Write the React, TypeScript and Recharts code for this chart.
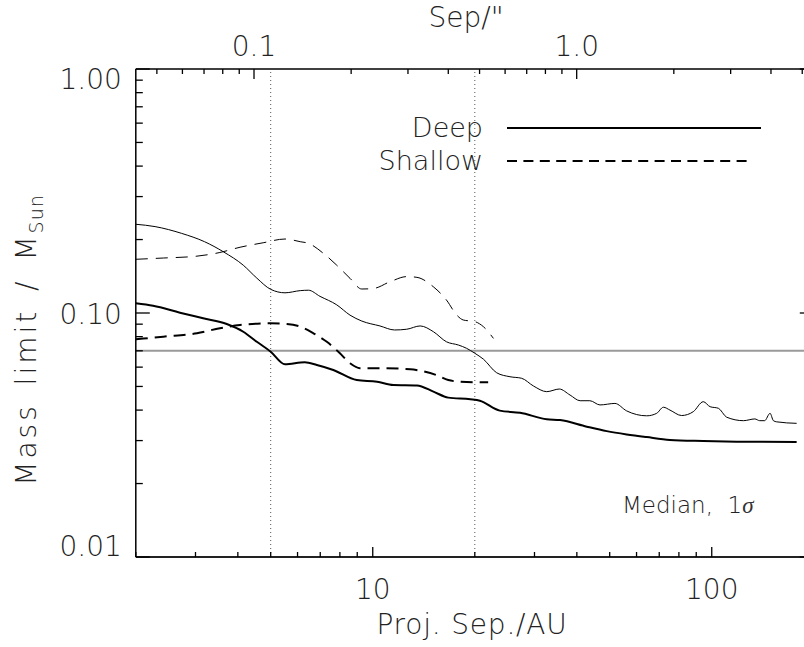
import { LineChart, Line, XAxis, YAxis, ReferenceLine, Legend } from "recharts";

const FONT = "'DejaVu Sans', sans-serif";
const W = 830;
const H = 647;

// Proj. sep (AU) / mass limit (M_sun)
const DEEP_AU = [2.0, 2.25, 2.7, 3.16, 3.71, 4.15, 4.55, 5.0, 5.51, 6.3, 6.84, 7.65, 8.97, 10.3, 11.5, 13.5, 15.1, 16.7, 19.4, 20.7, 23.7, 27.2, 32.6, 35.7, 42.8, 49, 56.1, 64.3, 75.3, 94.4, 118.5, 178];
const DEEP_MASS = [0.1096, 0.107, 0.1003, 0.0951, 0.0901, 0.0838, 0.0762, 0.0694, 0.0616, 0.0628, 0.0612, 0.0584, 0.0531, 0.0523, 0.0507, 0.0505, 0.0476, 0.045, 0.0443, 0.0437, 0.0398, 0.039, 0.0367, 0.0364, 0.0342, 0.0328, 0.0318, 0.031, 0.0302, 0.0299, 0.0297, 0.0296];

const DEEP_SIG_AU = [2.0, 2.28, 2.73, 3.19, 3.63, 4.15, 4.55, 5.0, 5.51, 6.11, 6.46, 6.99, 7.83, 8.57, 9.28, 10.5, 11.6, 12.6, 13.8, 15.1, 16.5, 17.9, 18.9, 20.0, 21.2, 23.2, 25.4, 27.5, 29.8, 32.6, 35.5, 38.2, 40.9, 43.7, 46.8, 51.8, 56.1, 64.3, 68.8, 72, 75.3, 81.5, 88.2, 94.4, 98.9, 104.6, 110.7, 124, 134, 138.5, 143.2, 148.6, 152, 155.5, 178];
const DEEP_SIG_MASS = [0.231, 0.226, 0.212, 0.196, 0.178, 0.157, 0.139, 0.125, 0.121, 0.1235, 0.124, 0.117, 0.108, 0.098, 0.0927, 0.0885, 0.0852, 0.0858, 0.0885, 0.0838, 0.0762, 0.0739, 0.0717, 0.0684, 0.0647, 0.0569, 0.0548, 0.054, 0.0502, 0.0476, 0.0488, 0.0461, 0.0437, 0.0437, 0.042, 0.0426, 0.0397, 0.0379, 0.0388, 0.0411, 0.04, 0.038, 0.0394, 0.0433, 0.0413, 0.0407, 0.0374, 0.0362, 0.0368, 0.0362, 0.0362, 0.0388, 0.0362, 0.0358, 0.0353];

const SHALLOW_AU = [2.0, 2.41, 3.03, 3.54, 4.06, 5.0, 5.58, 6.11, 6.68, 7.32, 8.0, 8.57, 9.17, 10.7, 12.9, 13.8, 15.4, 16.7, 18.1, 20.3, 21.9];
const SHALLOW_MASS = [0.078, 0.08, 0.0826, 0.0866, 0.0893, 0.0907, 0.0901, 0.0879, 0.0826, 0.0762, 0.0684, 0.0622, 0.0594, 0.0594, 0.0588, 0.058, 0.0557, 0.0531, 0.0523, 0.052, 0.052];

const SHALLOW_SIG_AU = [2.0, 2.41, 3.03, 3.54, 4.06, 4.75, 5.51, 6.11, 6.46, 7.15, 7.83, 8.57, 9.28, 10.04, 11.25, 12.6, 13.5, 15.1, 16.5, 17.7, 18.5, 20.0, 21.2, 22.7];
const SHALLOW_SIG_MASS = [0.166, 0.168, 0.171, 0.177, 0.186, 0.194, 0.201, 0.196, 0.193, 0.1756, 0.157, 0.1387, 0.1254, 0.126, 0.1343, 0.141, 0.14, 0.128, 0.113, 0.098, 0.0936, 0.0922, 0.0879, 0.0787];

const AU_TICKS = [2, 3, 4, 5, 6, 7, 8, 9, 10, 20, 30, 40, 50, 60, 70, 80, 90, 100, 200];
const ARCSEC_TICKS = [0.05, 0.06, 0.07, 0.08, 0.09, 0.1, 0.2, 0.3, 0.4, 0.5, 0.6, 0.7, 0.8, 0.9, 1, 2, 3, 4, 5];
const ARCSEC_RANGE = [0.04302, 5.43];
const MASS_TICKS = [0.01, 0.02, 0.03, 0.04, 0.05, 0.06, 0.07, 0.08, 0.09, 0.1, 0.2, 0.3, 0.4, 0.5, 0.6, 0.7, 0.8, 0.9, 1];

const HBL = 0.07; // grey horizontal line
const FIELD_EDGES = [5, 20]; // dotted verticals

const toPts = (xs: number[], ys: number[]) => xs.map((au, i) => ({ au, m: ys[i] }));
// empty series so the top (arcsec) axis gets drawn
const SEP_PTS = ARCSEC_RANGE.map((sep) => ({ sep, m: null }));

const isMajor = (v: number) => Math.abs(Math.log10(v) - Math.round(Math.log10(v))) < 1e-6;

const txt = { fontFamily: FONT, fontWeight: 200, fill: "#222" } as const;

function BottomTick({ x, y, payload }: any) {
  const major = isMajor(payload.value);
  return (
    <g>
      <line x1={x} y1={y} x2={x} y2={y - (major ? 10 : 5)} stroke="#000" strokeWidth={1.3} />
      {major && (
        <text x={x} y={y + 42} textAnchor="middle" fontSize={28} {...txt}>
          {payload.value}
        </text>
      )}
    </g>
  );
}

function TopTick({ x, y, payload }: any) {
  const major = isMajor(payload.value);
  return (
    <g>
      <line x1={x} y1={y} x2={x} y2={y + (major ? 10 : 5)} stroke="#000" strokeWidth={1.3} />
      {major && (
        <text x={x} y={y - 13} textAnchor="middle" fontSize={28} {...txt}>
          {payload.value.toFixed(1)}
        </text>
      )}
    </g>
  );
}

function LeftTick({ x, y, payload }: any) {
  const v = payload.value;
  const major = isMajor(v);
  const shift = v >= 1 ? 20 : v <= 0.01 ? -1 : 10.5;
  return (
    <g>
      <line x1={x} y1={y} x2={x + (major ? 14 : 7)} y2={y} stroke="#000" strokeWidth={1.3} />
      {major && (
        <text x={x - 14} y={y + shift} textAnchor="end" fontSize={28} {...txt}>
          {v.toFixed(2)}
        </text>
      )}
    </g>
  );
}

function RightTick({ x, y, payload }: any) {
  const major = isMajor(payload.value);
  return <line x1={x} y1={y} x2={x - (major ? 14 : 7)} y2={y} stroke="#000" strokeWidth={1.3} />;
}

function YTitle({ viewBox }: any) {
  const cx = viewBox.x - 99;
  const cy = 340;
  return (
    <text x={cx} y={cy} transform={`rotate(-90 ${cx} ${cy})`} textAnchor="middle" fontSize={28} letterSpacing={3} wordSpacing={6} {...txt}>
      Mass limit / M
      <tspan fontSize={19} dy={7} letterSpacing={1}>Sun</tspan>
    </text>
  );
}

function XTitle({ viewBox }: any) {
  return (
    <text x={472} y={viewBox.y + 77} textAnchor="middle" fontSize={28} letterSpacing={0.8} {...txt}>
      Proj. Sep./AU
    </text>
  );
}

function TopTitle({ viewBox }: any) {
  return (
    <text x={466} y={viewBox.y - 41} textAnchor="middle" fontSize={28} {...txt}>
      Sep/"
    </text>
  );
}

function LegendBox({ payload }: any) {
  const items = (payload || []).filter((p: any) => p.type !== "none");
  return (
    <svg width={420} height={70}>
      {items.map((p: any, i: number) => (
        <g key={p.value}>
          <text x={113} y={32 + i * 33} textAnchor="end" fontSize={27} {...txt}>
            {p.value}
          </text>
          <line
            x1={137}
            x2={i === 0 ? 391 : 383}
            y1={23 + i * 33}
            y2={23 + i * 33}
            stroke="#000"
            strokeWidth={i === 0 ? 2 : 1.8}
            strokeDasharray={i === 0 ? undefined : "10 6.4"}
          />
        </g>
      ))}
    </svg>
  );
}

export default function App() {
  return (
    <div style={{ position: "fixed", left: 0, top: 0, width: 804, height: 647, overflow: "hidden", background: "#fff" }}>
      <LineChart width={W} height={H} margin={{ top: 68, right: 15.2, bottom: 89, left: 134.8 }}>
        <XAxis
          xAxisId="au"
          dataKey="au"
          type="number"
          scale="log"
          domain={[2, 200]}
          allowDataOverflow
          ticks={AU_TICKS}
          interval={0}
          height={1}
          tickSize={0}
          tickMargin={0}
          tickLine={false}
          tick={<BottomTick />}
          axisLine={{ stroke: "#222", strokeWidth: 2 }}
          label={<XTitle />}
        />
        <XAxis
          xAxisId="sep"
          dataKey="sep"
          orientation="top"
          type="number"
          scale="log"
          domain={ARCSEC_RANGE}
          allowDataOverflow
          ticks={ARCSEC_TICKS}
          interval={0}
          height={1}
          tickSize={0}
          tickMargin={0}
          tickLine={false}
          tick={<TopTick />}
          axisLine={{ stroke: "#000", strokeWidth: 1.5 }}
          label={<TopTitle />}
        />
        <YAxis
          yAxisId="m"
          dataKey="m"
          type="number"
          scale="log"
          domain={[0.01, 1]}
          allowDataOverflow
          ticks={MASS_TICKS}
          interval={0}
          width={1}
          tickSize={0}
          tickMargin={0}
          tickLine={false}
          tick={<LeftTick />}
          axisLine={{ stroke: "#000", strokeWidth: 1.5 }}
          label={<YTitle />}
        />
        <YAxis
          yAxisId="r"
          orientation="right"
          type="number"
          scale="log"
          domain={[0.01, 1]}
          allowDataOverflow
          ticks={MASS_TICKS}
          interval={0}
          width={1}
          tickSize={0}
          tickMargin={0}
          tickLine={false}
          tick={<RightTick />}
          axisLine={{ stroke: "#000", strokeWidth: 1.5 }}
        />
        <ReferenceLine xAxisId="au" yAxisId="m" y={HBL} stroke="#9a9a9a" strokeWidth={2} />
        {FIELD_EDGES.map((v) => (
          <ReferenceLine key={v} xAxisId="au" yAxisId="m" x={v} stroke="#555" strokeWidth={1} strokeDasharray="1 3" />
        ))}
        <Line xAxisId="sep" yAxisId="r" data={SEP_PTS} dataKey="m" stroke="none" dot={false} legendType="none" isAnimationActive={false} />
        <Line xAxisId="au" yAxisId="m" data={toPts(DEEP_SIG_AU, DEEP_SIG_MASS)} dataKey="m" name="Deep 1σ" type="monotone" stroke="#000" strokeWidth={1} dot={false} legendType="none" isAnimationActive={false} />
        <Line xAxisId="au" yAxisId="m" data={toPts(SHALLOW_SIG_AU, SHALLOW_SIG_MASS)} dataKey="m" name="Shallow 1σ" type="monotone" stroke="#000" strokeWidth={1} strokeDasharray="12 8" dot={false} legendType="none" isAnimationActive={false} />
        <Line xAxisId="au" yAxisId="m" data={toPts(DEEP_AU, DEEP_MASS)} dataKey="m" name="Deep" type="monotone" stroke="#000" strokeWidth={2} dot={false} isAnimationActive={false} />
        <Line xAxisId="au" yAxisId="m" data={toPts(SHALLOW_AU, SHALLOW_MASS)} dataKey="m" name="Shallow" type="monotone" stroke="#000" strokeWidth={2} strokeDasharray="12 7" dot={false} isAnimationActive={false} />
        <Legend
          layout="horizontal"
          verticalAlign="middle"
          align="center"
          content={<LegendBox />}
          wrapperStyle={{ position: "absolute", left: 370, top: 105, width: 420, height: 70 }}
        />
      </LineChart>
      <div style={{ position: "absolute", left: 622, top: 492, fontFamily: FONT, fontWeight: 200, fontSize: 23, color: "#222", whiteSpace: "pre" }}>
        Median,  1<span style={{ fontFamily: "'Liberation Serif', serif", fontStyle: "italic", fontWeight: 400, color: "#333" }}>σ</span>
      </div>
    </div>
  );
}
